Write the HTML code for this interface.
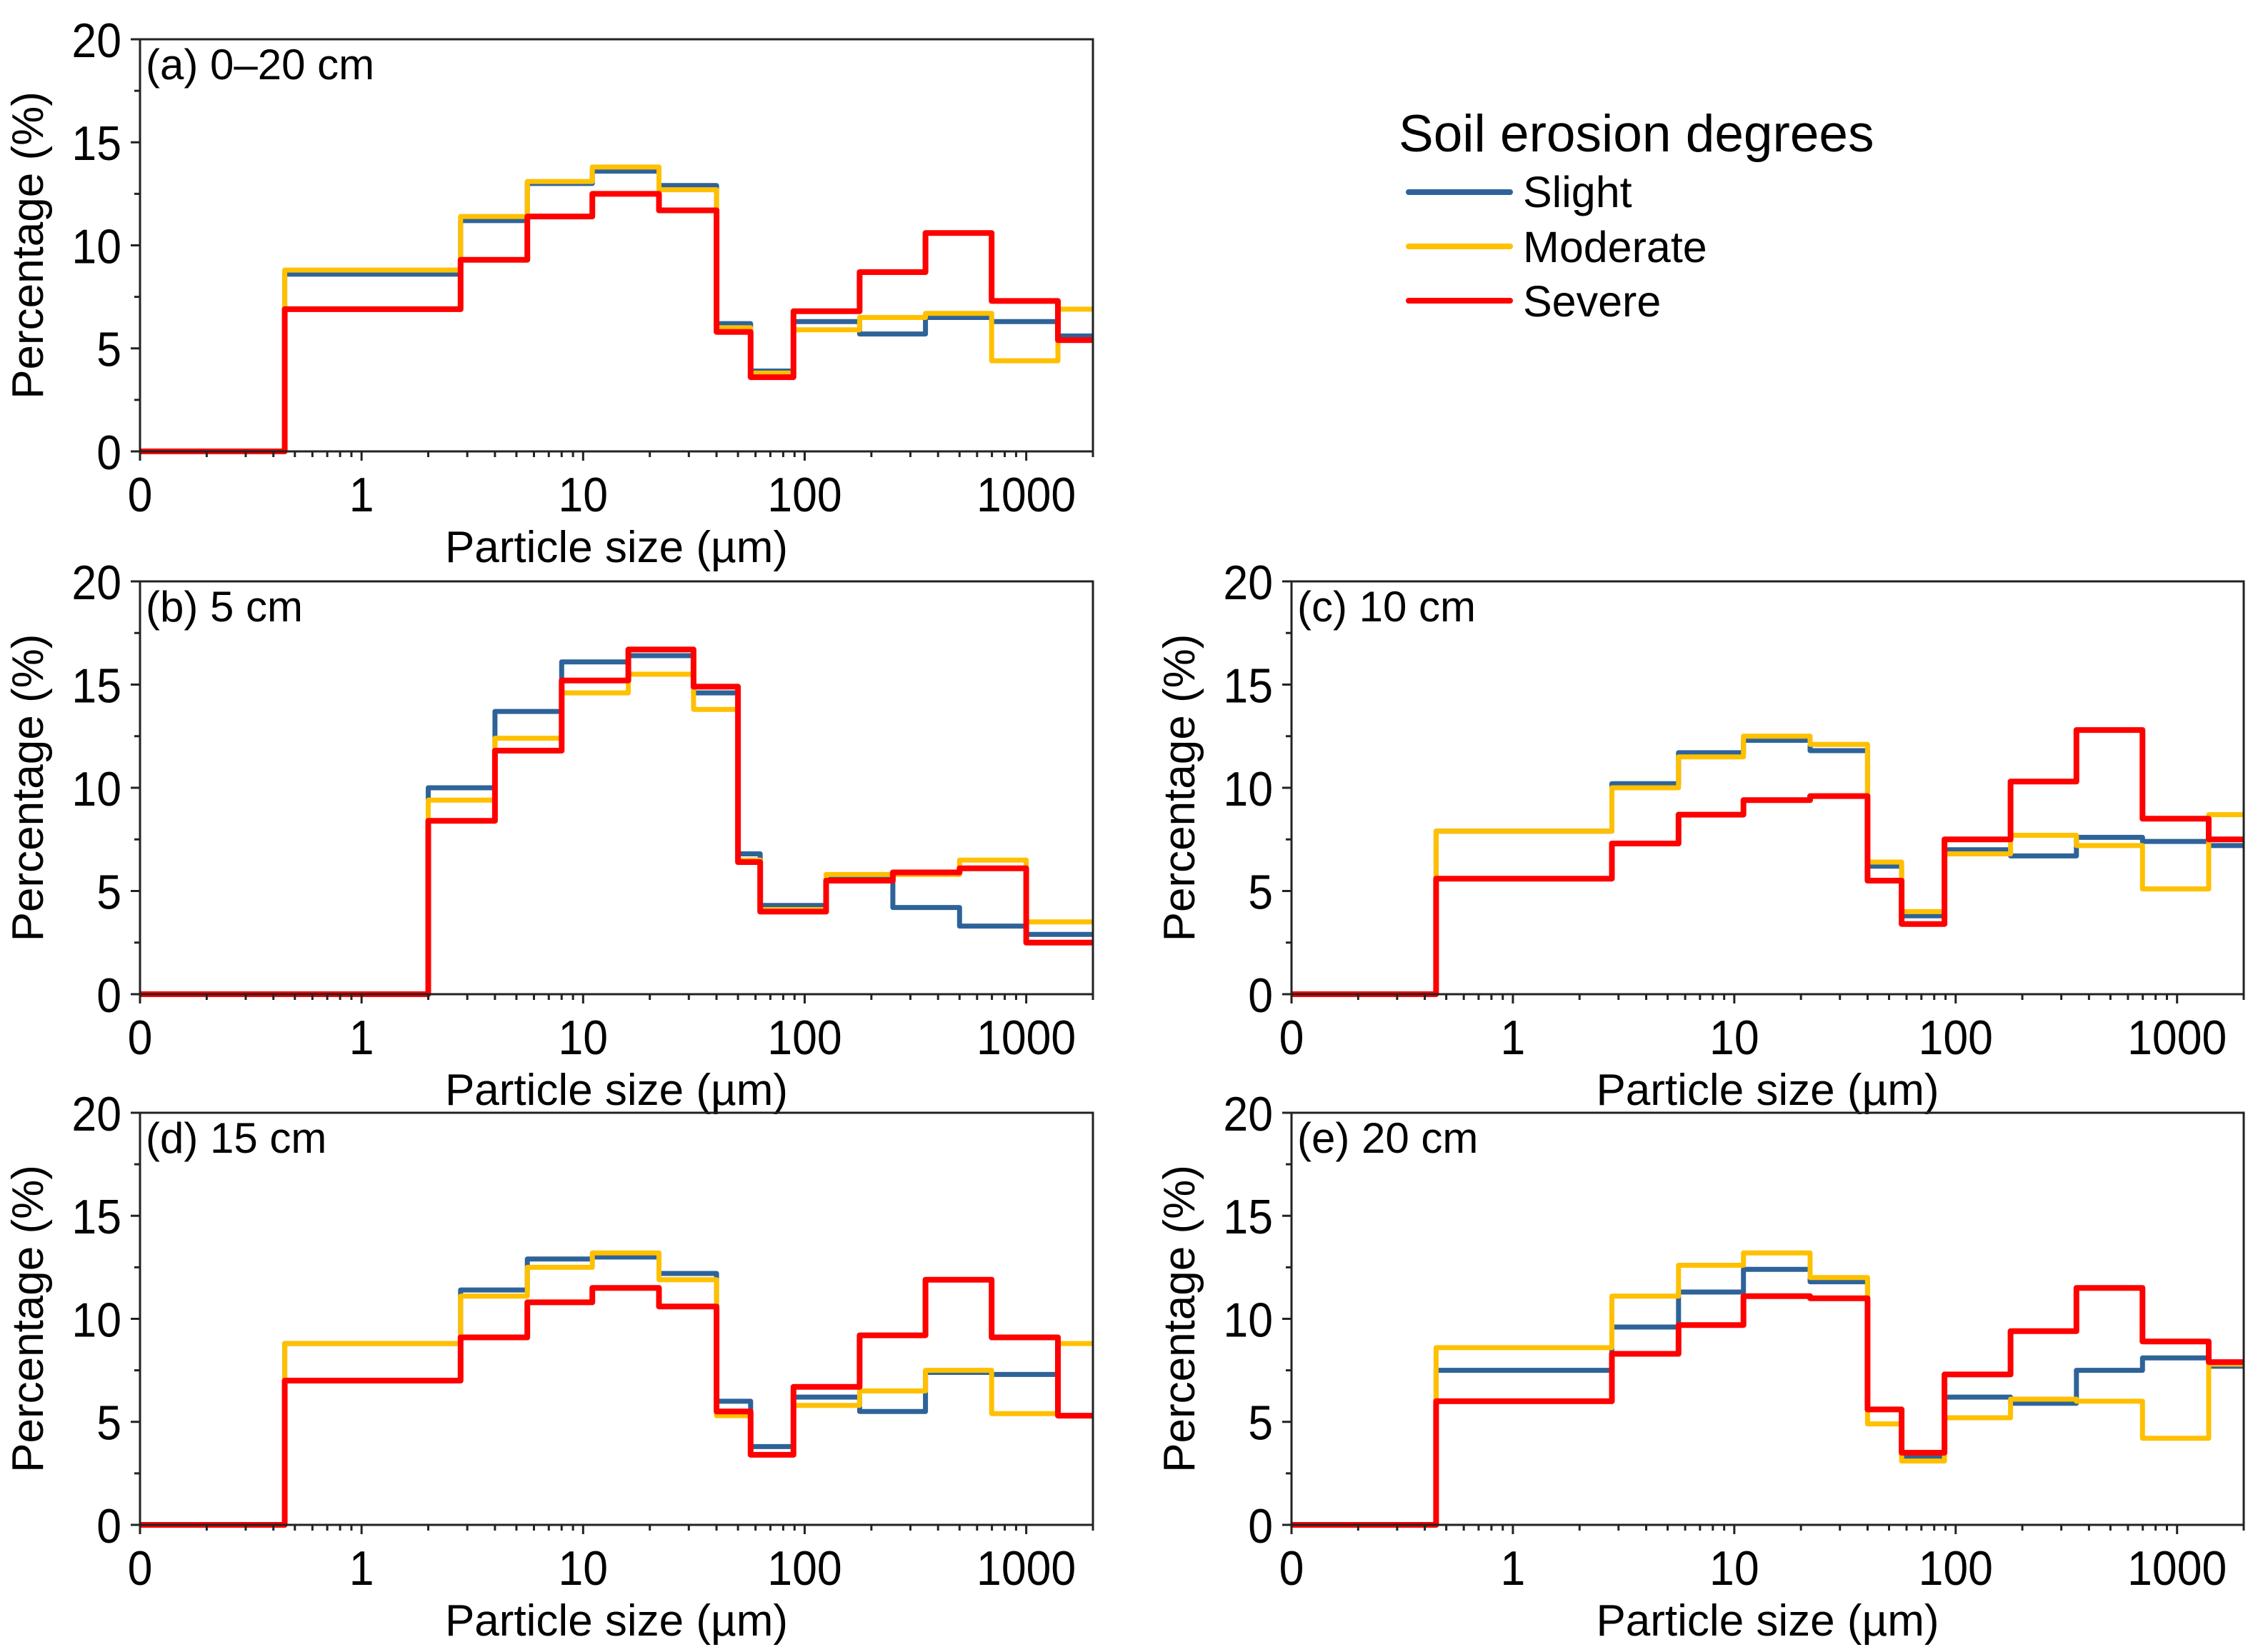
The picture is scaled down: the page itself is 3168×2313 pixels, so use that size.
<!DOCTYPE html>
<html><head><meta charset="utf-8"><style>
html,body{margin:0;padding:0;background:#fff;}
svg{display:block;}
text{font-family:"Liberation Sans",Arial,sans-serif;fill:#000;}
</style></head>
<body>
<svg id="fig" width="3168" height="2313" viewBox="0 0 3168 2313" xmlns="http://www.w3.org/2000/svg">
<g>
<text x="1958" y="212" font-size="73">Soil erosion degrees</text>
<line x1="1972" y1="269" x2="2114" y2="269" stroke="#2e6399" stroke-width="8" stroke-linecap="round"/>
<text x="2132" y="290" font-size="61">Slight</text>
<line x1="1972" y1="345" x2="2114" y2="345" stroke="#ffc000" stroke-width="8" stroke-linecap="round"/>
<text x="2132" y="367" font-size="61">Moderate</text>
<line x1="1972" y1="421" x2="2114" y2="421" stroke="#ff0000" stroke-width="8" stroke-linecap="round"/>
<text x="2132" y="443" font-size="61">Severe</text>
</g>
</svg>
<script>
const edgesA = [0.1,0.45,2.8,5.6,11,22,40,57,89,177,351,698,1390,2000];
const edgesB = [0.1,2,4,8,16,31.5,50,63,125,250,500,1000,2000];
const slightA = [0,8.6,11.2,13.0,13.6,12.9,6.2,3.9,6.3,5.7,6.5,6.3,5.6];
const moderateA = [0,8.8,11.4,13.1,13.8,12.7,6.0,3.8,5.9,6.5,6.7,4.4,6.9];
const severeA = [0,6.9,9.3,11.4,12.5,11.7,5.8,3.6,6.8,8.7,10.6,7.3,5.4];
const slightB = [0,10.0,13.7,16.1,16.4,14.6,6.8,4.3,5.6,4.2,3.3,2.9];
const moderateB = [0,9.4,12.4,14.6,15.5,13.8,6.5,4.1,5.8,5.8,6.5,3.5];
const severeB = [0,8.4,11.8,15.2,16.7,14.9,6.4,4.0,5.5,5.9,6.1,2.5];
const slightC = [0,7.9,10.2,11.7,12.3,11.8,6.2,3.8,7.0,6.7,7.6,7.4,7.2];
const moderateC = [0,7.9,10.0,11.5,12.5,12.1,6.4,4.0,6.8,7.7,7.2,5.1,8.7];
const severeC = [0,5.6,7.3,8.7,9.4,9.6,5.5,3.4,7.5,10.3,12.8,8.5,7.5];
const slightD = [0,8.8,11.4,12.9,13.0,12.2,6.0,3.8,6.2,5.5,7.4,7.3,5.3];
const moderateD = [0,8.8,11.1,12.5,13.2,11.9,5.3,3.4,5.8,6.5,7.5,5.4,8.8];
const severeD = [0,7.0,9.1,10.8,11.5,10.6,5.5,3.4,6.7,9.2,11.9,9.1,5.3];
const slightE = [0,7.5,9.6,11.3,12.4,11.8,5.6,3.3,6.2,5.9,7.5,8.1,7.7];
const moderateE = [0,8.6,11.1,12.6,13.2,12.0,4.9,3.1,5.2,6.1,6.0,4.2,7.8];
const severeE = [0,6.0,8.3,9.7,11.1,11.0,5.6,3.5,7.3,9.4,11.5,8.9,7.9];
const yTicks = [0,5,10,15,20];
const xTicks = [0.1,1,10,100,1000];
const xTickLabels = ["0","1","10","100","1000"];

const NS="http://www.w3.org/2000/svg";
const svg=document.getElementById('fig');
function mk(tag,attrs,parent){const e=document.createElementNS(NS,tag);for(const k in attrs)e.setAttribute(k,attrs[k]);(parent||svg).appendChild(e);return e;}

const panels=[
 {id:'a',label:'(a) 0–20 cm',x0:196,x1:1530,y0:55,y1:632,edges:edgesA,s:[slightA,moderateA,severeA]},
 {id:'b',label:'(b) 5 cm',x0:196,x1:1530,y0:814,y1:1392,edges:edgesB,s:[slightB,moderateB,severeB]},
 {id:'c',label:'(c) 10 cm',x0:1808,x1:3141,y0:814,y1:1392,edges:edgesA,s:[slightC,moderateC,severeC]},
 {id:'d',label:'(d) 15 cm',x0:196,x1:1530,y0:1558,y1:2135,edges:edgesA,s:[slightD,moderateD,severeD]},
 {id:'e',label:'(e) 20 cm',x0:1808,x1:3141,y0:1558,y1:2135,edges:edgesA,s:[slightE,moderateE,severeE]}
];
const colors=['#2e6399','#ffc000','#ff0000'];
const widths=[7,7,8];
const names=['slight','moderate','severe'];
const lmin=Math.log10(0.1), lmax=Math.log10(2000);

panels.forEach(p=>{
 const g=mk('g',{});
 
 
 const X=v=>p.x0+(Math.log10(v)-lmin)/(lmax-lmin)*(p.x1-p.x0);
 const Y=v=>p.y1-v/20*(p.y1-p.y0);
 p.s.forEach((vals,si)=>{
  let d='';
  vals.forEach((v,i)=>{
   const xa=X(p.edges[i]), xb=X(p.edges[i+1]), y=Y(v);
   d+=(i===0?'M':'L')+xa.toFixed(1)+','+y.toFixed(1)+'L'+xb.toFixed(1)+','+y.toFixed(1);
  });
  const path=mk('path',{d:d,fill:'none',stroke:colors[si],'stroke-width':widths[si],'stroke-linejoin':'round'},g);
  
  
 });
 const fr=mk('rect',{x:p.x0,y:p.y0,width:p.x1-p.x0,height:p.y1-p.y0,fill:'none',stroke:'#222','stroke-width':3},g);
 
 
 for(let v=0;v<=20;v+=2.5){
  const major=yTicks.indexOf(v)>=0;
  mk('line',{x1:p.x0-(major?13:8),x2:p.x0,y1:Y(v),y2:Y(v),stroke:'#222','stroke-width':3},g);
 }
 yTicks.forEach(v=>{
  const tx=p.x0-26, ty=Y(v)+25;
  const t=mk('text',{x:tx,y:ty,'font-size':68,'text-anchor':'end',transform:'translate('+tx+' '+ty+') scale(0.92 1) translate('+(-tx)+' '+(-ty)+')'},g);
  t.textContent=String(v);
  
  
 });
 for(let e=-1;e<=3;e++){
  for(let m=1;m<=9;m++){
   const v=m*Math.pow(10,e);
   if(v>2000)break;
   const major=m===1;
   mk('line',{x1:X(v),x2:X(v),y1:p.y1,y2:p.y1+(major?13:8),stroke:'#222','stroke-width':3},g);
  }
 }
 mk('line',{x1:p.x1,x2:p.x1,y1:p.y1,y2:p.y1+8,stroke:'#222','stroke-width':3},g);
 xTicks.forEach((v,i)=>{
  const tx=X(v), ty=p.y1+84;
  const t=mk('text',{x:tx,y:ty,'font-size':68,'text-anchor':'middle',transform:'translate('+tx+' '+ty+') scale(0.92 1) translate('+(-tx)+' '+(-ty)+')'},g);
  t.textContent=xTickLabels[i];
  
  
 });
 const xt=mk('text',{x:(p.x0+p.x1)/2,y:p.y1+155,'font-size':62,'text-anchor':'middle'},g);
 xt.textContent='Particle size (µm)';
 
 
 const cy=(p.y0+p.y1)/2, cx=p.x0-136;
 const yt=mk('text',{x:cx,y:cy,'font-size':62,'text-anchor':'middle',transform:'rotate(-90 '+cx+' '+cy+')'},g);
 yt.textContent='Percentage (%)';
 
 
 const lb=mk('text',{x:p.x0+8,y:p.y0+56,'font-size':60},g);
 lb.textContent=p.label;
 
 
});
</script>
</body></html>
